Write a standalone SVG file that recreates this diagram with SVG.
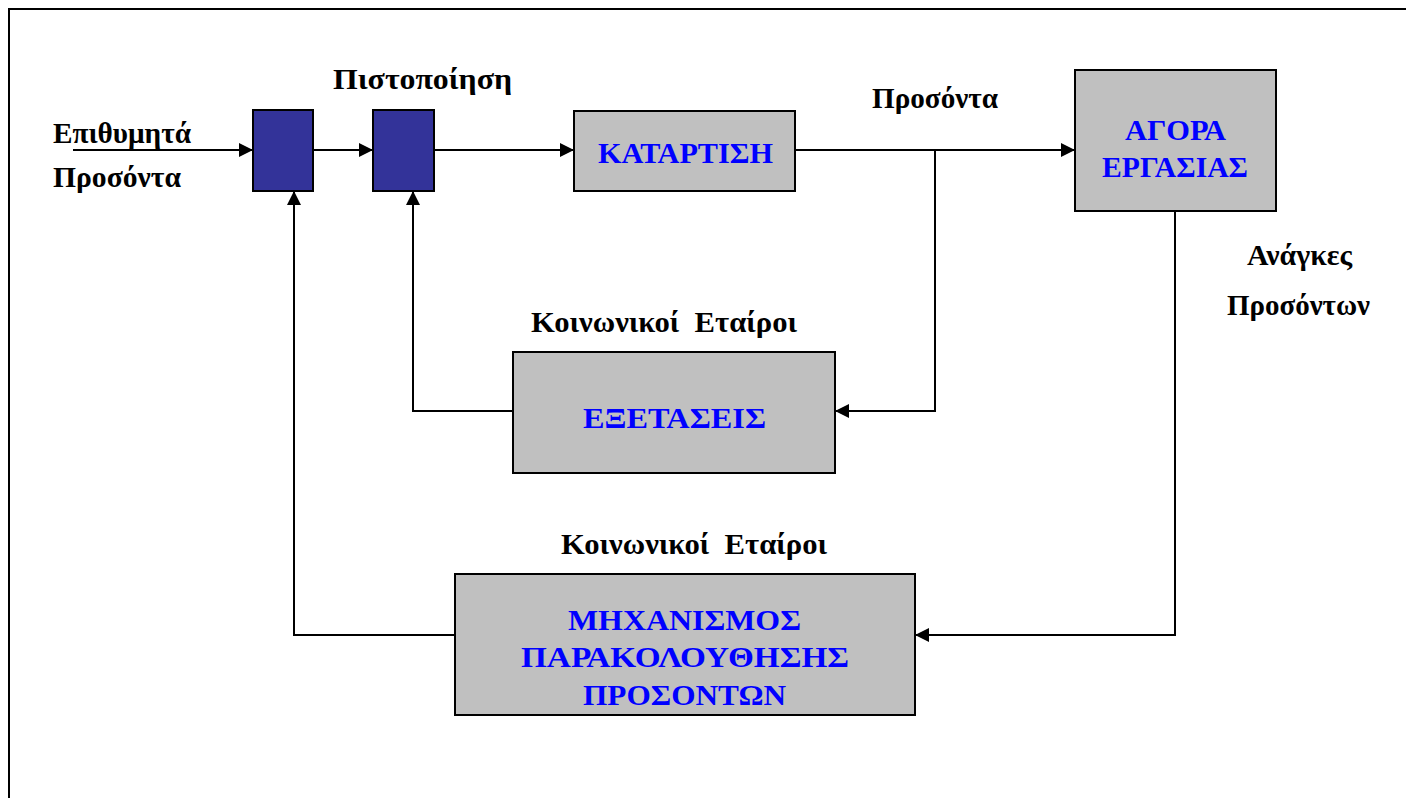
<svg xmlns="http://www.w3.org/2000/svg" width="1406" height="798" viewBox="0 0 1406 798">
<defs>
<marker id="ah" viewBox="0 0 10 10" refX="10" refY="5" markerWidth="14" markerHeight="14" markerUnits="userSpaceOnUse" orient="auto">
<path d="M0,0 L10,5 L0,10 Z" fill="#000"/>
</marker>
<style>
.lbl{font-family:"Liberation Serif","Times New Roman",serif;font-weight:bold;font-size:29px;fill:#000}
.nt{font-family:"Liberation Serif","Times New Roman",serif;font-weight:bold;font-size:30px;fill:#0000FF;text-anchor:middle}
.gr{fill:#C0C0C0;stroke:#000;stroke-width:2}
.bl{fill:#333399;stroke:#000;stroke-width:2}
.ln{fill:none;stroke:#000;stroke-width:2}
</style>
</defs>
<rect width="1406" height="798" fill="#fff"/>
<path d="M9,798 L9,9 L1406,9" fill="none" stroke="#000" stroke-width="2"/>
<g id="connectors">
<path class="ln" d="M73,150 L253,150" marker-end="url(#ah)"/>
<path class="ln" d="M313,150 L373,150" marker-end="url(#ah)"/>
<path class="ln" d="M434,150 L574,150" marker-end="url(#ah)"/>
<path class="ln" d="M795,150 L1075,150" marker-end="url(#ah)"/>
<path class="ln" d="M935,150 L935,411 L835,411" marker-end="url(#ah)"/>
<path class="ln" d="M513,411 L413,411 L413,191" marker-end="url(#ah)"/>
<path class="ln" d="M1175,211 L1175,635 L915,635" marker-end="url(#ah)"/>
<path class="ln" d="M455,635 L294,635 L294,191" marker-end="url(#ah)"/>
</g>
<g id="cert1"><rect class="bl" x="253" y="110" width="60" height="81"/></g>
<g id="cert2"><rect class="bl" x="373" y="110" width="61" height="81"/></g>
<g id="katartisi"><rect class="gr" x="574" y="111" width="221" height="80"/><text class="nt" x="685.5" y="163" textLength="175" lengthAdjust="spacingAndGlyphs">ΚΑΤΑΡΤΙΣΗ</text></g>
<g id="agora"><rect class="gr" x="1075" y="70" width="201" height="141"/><text class="nt" x="1175.5" y="140" textLength="101" lengthAdjust="spacingAndGlyphs">ΑΓΟΡΑ</text><text class="nt" x="1175" y="177" textLength="146" lengthAdjust="spacingAndGlyphs">ΕΡΓΑΣΙΑΣ</text></g>
<g id="exetaseis"><rect class="gr" x="513" y="352" width="322" height="121"/><text class="nt" x="674.5" y="428" textLength="183" lengthAdjust="spacingAndGlyphs">ΕΞΕΤΑΣΕΙΣ</text></g>
<g id="mixanismos"><rect class="gr" x="455" y="574" width="460" height="141"/><text class="nt" x="684.5" y="630" textLength="233" lengthAdjust="spacingAndGlyphs">ΜΗΧΑΝΙΣΜΟΣ</text><text class="nt" x="685" y="667" textLength="328" lengthAdjust="spacingAndGlyphs">ΠΑΡΑΚΟΛΟΥΘΗΣΗΣ</text><text class="nt" x="684.5" y="705" textLength="203" lengthAdjust="spacingAndGlyphs">ΠΡΟΣΟΝΤΩΝ</text></g>
<g id="labels">
<text class="lbl" x="53" y="143" textLength="138" lengthAdjust="spacingAndGlyphs">Επιθυμητά</text>
<text class="lbl" x="53" y="187" textLength="128" lengthAdjust="spacingAndGlyphs">Προσόντα</text>
<text class="lbl" x="333" y="89" textLength="179" lengthAdjust="spacingAndGlyphs">Πιστοποίηση</text>
<text class="lbl" x="872" y="108" textLength="126" lengthAdjust="spacingAndGlyphs">Προσόντα</text>
<text class="lbl" x="1247" y="265" textLength="105" lengthAdjust="spacingAndGlyphs">Ανάγκες</text>
<text class="lbl" x="1227" y="315" textLength="143" lengthAdjust="spacingAndGlyphs">Προσόντων</text>
<text class="lbl" x="531" y="332" textLength="266" lengthAdjust="spacingAndGlyphs" xml:space="preserve">Κοινωνικοί  Εταίροι</text>
<text class="lbl" x="561" y="554" textLength="266" lengthAdjust="spacingAndGlyphs" xml:space="preserve">Κοινωνικοί  Εταίροι</text>
</g>
</svg>
